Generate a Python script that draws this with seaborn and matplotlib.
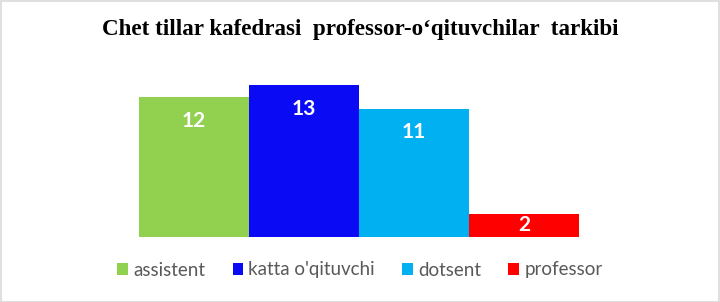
import matplotlib
matplotlib.use("Agg")
import matplotlib.pyplot as plt
import seaborn as sns
import pandas as pd
from matplotlib.patches import Rectangle, Patch

categories = ["assistent", "katta o'qituvchi", "dotsent", "professor"]
values = [12, 13, 11, 2]
colors = ["#92D050", "#0A0AF5", "#00B0F0", "#FF0000"]
title = "Chet tillar kafedrasi  professor-o\u2018qituvchilar  tarkibi"

sns.set_theme(style="white")
plt.rcParams['font.family'] = ['Lato', 'DejaVu Sans']

W, H = 720, 302
fig = plt.figure(figsize=(W / 100, H / 100), dpi=100)
ax_left, ax_right = 139, 579
base, unit = 237, 11.67
ymax = 14
top = base - ymax * unit
ax = fig.add_axes([ax_left / W, 1 - base / H, (ax_right - ax_left) / W, (base - top) / H])

df = pd.DataFrame({"cat": categories, "val": values})
sns.barplot(data=df, x="cat", y="val", hue="cat", palette=colors, width=1.0,
            saturation=1, legend=False, ax=ax, order=categories, hue_order=categories,
            linewidth=0, edgecolor="none")
ax.set_xlim(-0.5, 3.5)
ax.set_ylim(0, ymax)
ax.axis("off")

for cont in ax.containers:
    for bar in cont:
        h = bar.get_height()
        xc = bar.get_x() + bar.get_width() / 2
        if h * unit > 40:
            ax.annotate(f"{int(h)}", (xc, h), xytext=(0, -17), textcoords="offset points",
                        ha="center", va="center", color="white", fontsize=15, fontweight="bold")
        else:
            ax.text(xc, h / 2, f"{int(h)}", ha="center", va="center",
                    color="white", fontsize=15, fontweight="bold")

fig.text(0.5, 1 - 30 / H, title, ha="center", va="center",
         family="Liberation Serif", fontweight="bold", fontsize=16.6, color="black")

handles = [Patch(facecolor=c, edgecolor="none") for c in colors]
fig.legend(handles, categories, loc="center", bbox_to_anchor=(0.5, 1 - 270 / H),
           ncol=4, frameon=False, fontsize=13.5, handlelength=0.55, handleheight=0.55,
           handletextpad=0.3, columnspacing=1.45, labelcolor="#595959")

fig.patches.append(Rectangle((0.5 / W, 0.5 / H), 1 - 1.5 / W, 1 - 1.5 / H, transform=fig.transFigure,
                             fill=False, edgecolor="#D9D9D9", linewidth=1.2))

fig.savefig("out.png", dpi=100)
